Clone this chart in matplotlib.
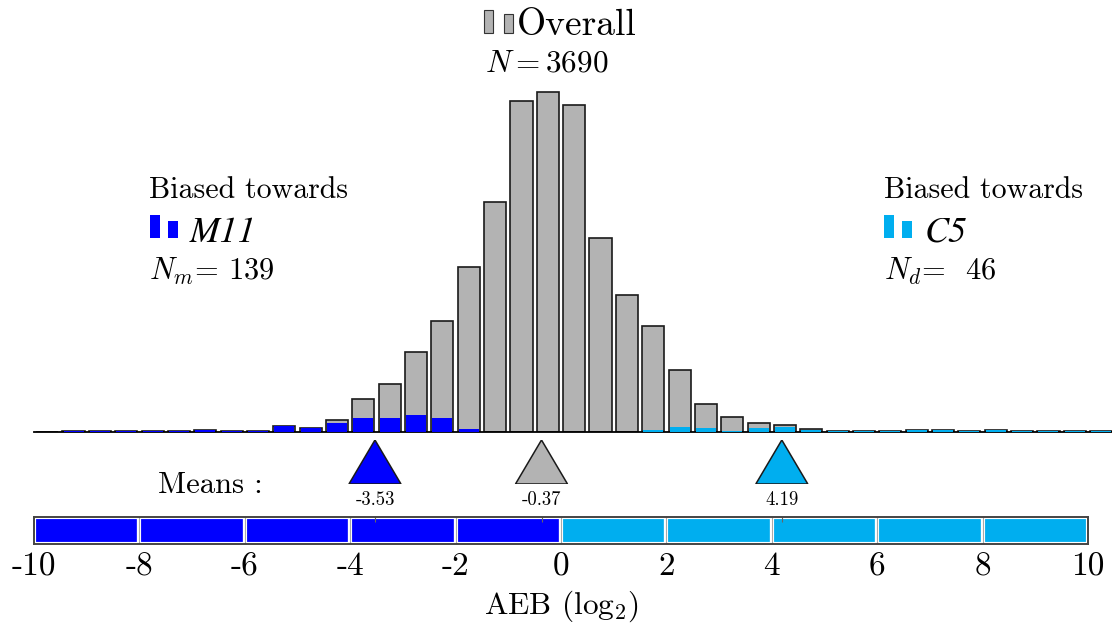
import numpy as np
import matplotlib
matplotlib.use('Agg')
import matplotlib.pyplot as plt
from matplotlib.patches import Rectangle

plt.rcParams['font.family'] = 'serif'
plt.rcParams['font.serif'] = ['cmr10', 'DejaVu Serif']
plt.rcParams['mathtext.fontset'] = 'cm'
plt.rcParams['axes.unicode_minus'] = False

# histogram bins of width 0.5, centres from -9.75 to 10.25
bin_centers = np.arange(-9.75, 10.26, 0.5)
overall_counts = [0, 2, 1, 2, 1, 2, 3, 1, 2, 9, 7,
                  19, 53, 78, 130, 181, 269, 374, 540, 554, 533,
                  316, 223, 173, 101, 45, 24, 15, 12, 5,
                  1, 1, 2, 3, 3, 1, 3, 2, 1, 1, 2]
m11_counts = [0, 2, 1, 2, 1, 2, 3, 1, 2, 9, 7,
              14, 23, 23, 27, 23, 5, 0, 0, 0, 0,
              0, 0, 0, 0, 0, 0, 0, 0, 0,
              0, 0, 0, 0, 0, 0, 0, 0, 0, 0, 0]
c5_counts = [0, 0, 0, 0, 0, 0, 0, 0, 0, 0, 0,
             0, 0, 0, 0, 0, 0, 0, 0, 0, 0,
             0, 0, 3, 8, 6, 2, 6, 8, 4,
             1, 1, 2, 3, 3, 1, 3, 2, 1, 1, 2]

mean_values = [-3.53, -0.37, 4.19]
mean_labels = ['-3.53', '-0.37', '4.19']
n_overall, n_m11, n_c5 = 3690, 139, 46
tick_values = list(range(-10, 11, 2))
tick_labels = [str(t) for t in tick_values]

gray = '#b3b3b3'
blue = '#0000ff'
cyan = '#00aeef'
mean_colors = [blue, gray, cyan]

W, H = 1112, 625
fig = plt.figure(figsize=(W / 100, H / 100), dpi=100)


def px_axes(x0, y0, x1, y1):
    # axes from pixel box (top-left origin)
    return fig.add_axes([x0 / W, 1 - y1 / H, (x1 - x0) / W, (y1 - y0) / H])


# histogram
ax = px_axes(34, 0, 1112, 432)
ax.bar(bin_centers, overall_counts, width=0.42, color=gray, edgecolor='#1a1a1a', linewidth=1.2, zorder=2)
ax.bar(bin_centers, m11_counts, width=0.38, color=blue, linewidth=0, zorder=3)
ax.bar(bin_centers, c5_counts, width=0.38, color=cyan, linewidth=0, zorder=3)
ax.set_xlim(-10, 10 + 24 / 52.7)
ax.set_ylim(0, 554 * 432 / 340)
for s in ['top', 'left', 'right']:
    ax.spines[s].set_visible(False)
ax.spines['bottom'].set_linewidth(1.3)
ax.set_xticks([])
ax.set_yticks([])
ax.patch.set_alpha(0)

# annotations
fig.add_artist(Rectangle((484 / W, 1 - 33 / H), 9 / W, 23 / H, facecolor=gray, edgecolor='#333', lw=0.8))
fig.add_artist(Rectangle((504 / W, 1 - 33 / H), 9 / W, 19 / H, facecolor=gray, edgecolor='#333', lw=0.8))
fig.text(517 / W, 1 - 35 / H, 'Overall', fontsize=27, va='baseline', ha='left')
fig.text(485 / W, 1 - 72 / H, r'$N = %d$' % n_overall, fontsize=22.5, va='baseline', ha='left')

fig.text(149 / W, 1 - 198 / H, 'Biased towards', fontsize=21.5, va='baseline', ha='left')
fig.add_artist(Rectangle((150 / W, 1 - 238 / H), 10 / W, 23 / H, facecolor=blue, lw=0))
fig.add_artist(Rectangle((168 / W, 1 - 238 / H), 10 / W, 17 / H, facecolor=blue, lw=0))
fig.text(190 / W, 1 - 242 / H, 'M11', fontsize=26, family='STIXGeneral', style='italic',
         va='baseline', ha='left')
fig.text(149 / W, 1 - 280 / H, r'$N_m$= %d' % n_m11, fontsize=22, va='baseline', ha='left')

fig.text(884 / W, 1 - 198 / H, 'Biased towards', fontsize=21.5, va='baseline', ha='left')
fig.add_artist(Rectangle((884 / W, 1 - 238 / H), 10 / W, 23 / H, facecolor=cyan, lw=0))
fig.add_artist(Rectangle((902 / W, 1 - 238 / H), 10 / W, 17 / H, facecolor=cyan, lw=0))
fig.text(925 / W, 1 - 242 / H, 'C5', fontsize=26, family='STIXGeneral', style='italic',
         va='baseline', ha='left')
fig.text(884 / W, 1 - 280 / H, r'$N_d$=  %d' % n_c5, fontsize=22, va='baseline', ha='left')

# means
axm = px_axes(34, 440, 1088, 484)
axm.set_xlim(-10, 10)
axm.set_ylim(0, 1)
axm.axis('off')
half = 26 / 52.7
for m, lab, c in zip(mean_values, mean_labels, mean_colors):
    axm.fill([m - half, m + half, m], [0, 0, 1], facecolor=c, edgecolor='#1a1a1a', linewidth=1.1)
    axm.text(m, -0.36, lab, fontsize=13.5, ha='center', va='center', clip_on=False)
fig.text(158 / W, 1 - 493 / H, 'Means :', fontsize=22, va='baseline', ha='left')

# colour bar
axc = px_axes(34, 517, 1088, 544)
seg_centers = np.arange(-9, 10, 2)
seg_colors = [blue if s < 0 else cyan for s in seg_centers]
axc.bar(seg_centers, 1, width=2, bottom=0, color=seg_colors, edgecolor='white', linewidth=3)
axc.vlines(seg_centers[:-1] + 1, 0, 1, color='#aaaaaa', linewidth=0.8)
axc.vlines(mean_values, 0.82, 1, color='#666666', linewidth=0.8)
axc.set_xlim(-10, 10)
axc.set_ylim(0, 1)
for s in axc.spines.values():
    s.set_linewidth(1.4)
    s.set_color('#444444')
axc.set_yticks([])
axc.set_xticks(tick_values)
axc.set_xticklabels(tick_labels, fontsize=24)
axc.tick_params(axis='x', length=0, pad=6)
axc.set_xlabel(r'AEB (log$_2$)', fontsize=22.5, labelpad=5)

fig.savefig('out.png', dpi=100)
